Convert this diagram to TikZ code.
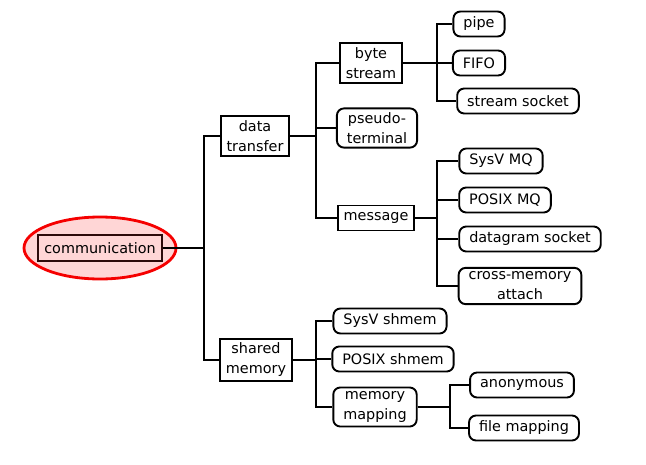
\documentclass[tikz,border=0pt]{standalone}
\usepackage{fontspec}
\setmainfont{DejaVu Sans}
\usetikzlibrary{shapes.geometric}
\definecolor{rootfill}{RGB}{255,214,214}
\definecolor{rootred}{RGB}{245,0,0}
\definecolor{rootline}{RGB}{45,10,10}

\begin{document}
\begin{tikzpicture}[x=1pt,y=-1pt, every node/.style={font=\fontsize{14.4}{20}\selectfont},
  branch/.style={draw,line width=1.9pt,inner xsep=6pt,inner ysep=4pt,minimum height=25pt,align=center},
  leaf/.style={draw,line width=1.9pt,rounded corners=7pt,inner xsep=10pt,inner ysep=4pt,
               minimum height=25pt,align=center},
  link/.style={line width=1.9pt}]
\useasboundingbox (0,0) rectangle (646,464);

\node[ellipse,draw=rootred,fill=rootfill,line width=2.8pt,minimum width=152pt,minimum height=62pt]
  (ring) at (100,248) {};
\node[branch,draw=rootline,fill=rootfill,minimum width=120pt,minimum height=26pt,inner ysep=2pt]
  (comm) at (100,248) {communication};

\node[branch] (data) at (255,136) {data\\transfer};
\node[branch] (shm)  at (256,360) {shared\\memory};

\node[branch] (bytes) at (371,63)  {byte\\stream};
\node[leaf]   (pty)   at (377,128) {pseudo-\\terminal};
\node[branch] (msg)   at (376,218) {message};

\node[leaf] (pipe)  at (479,24)  {pipe};
\node[leaf] (fifo)  at (479,63)  {FIFO};
\node[leaf] (ssock) at (518,101) {stream socket};

\node[leaf] (sysvmq)  at (501,161) {SysV MQ};
\node[leaf] (posixmq) at (505,200) {POSIX MQ};
\node[leaf] (dgram)   at (530,239) {datagram socket};
\node[leaf] (cma)     at (520,286) {cross-memory\\attach};

\node[leaf] (sysvshm)  at (390,321) {SysV shmem};
\node[leaf] (posixshm) at (393,359) {POSIX shmem};
\node[leaf] (mmap)     at (375,407) {memory\\mapping};

\node[leaf] (anon)    at (522,385) {anonymous};
\node[leaf] (filemap) at (524,428) {file mapping};

% fork points of the tree
\coordinate (rootfork) at (204,248);
\coordinate (dtfork)   at (316,136);
\coordinate (bsfork)   at (437,63);
\coordinate (msgfork)  at (437,218);
\coordinate (shmfork)  at (316,360);
\coordinate (mmfork)   at (450,407);

\foreach \p/\f/\c in {comm/rootfork/data,comm/rootfork/shm,
    data/dtfork/bytes,data/dtfork/pty,data/dtfork/msg,
    bytes/bsfork/pipe,bytes/bsfork/fifo,bytes/bsfork/ssock,
    msg/msgfork/sysvmq,msg/msgfork/posixmq,msg/msgfork/dgram,msg/msgfork/cma,
    shm/shmfork/sysvshm,shm/shmfork/posixshm,shm/shmfork/mmap,
    mmap/mmfork/anon,mmap/mmfork/filemap}
  \draw[link] (\p.east) -- (\f) |- (\c.west);
\end{tikzpicture}
\end{document}
